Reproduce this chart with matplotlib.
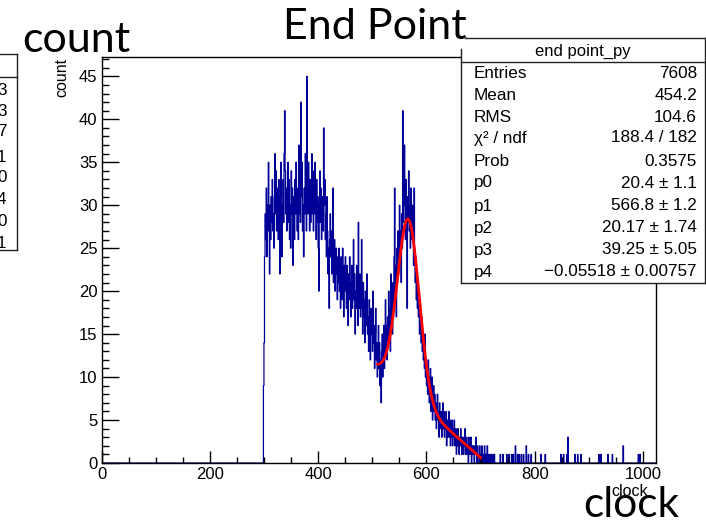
import numpy as np
import matplotlib
matplotlib.use("Agg")
import matplotlib.pyplot as plt
from matplotlib.ticker import MultipleLocator
from matplotlib.lines import Line2D
from matplotlib.patches import Rectangle

# histogram "end point_py": 1024 bins of width 1, counts
n_bins = 1024
first_bin = 298
counts_main = [
    0, 9, 14, 24, 29, 26, 32, 24, 30, 27,     # 298
    35, 28, 22, 30, 26, 31, 28, 33, 27, 29,   # 308
    25, 31, 36, 29, 34, 27, 32, 30, 26, 33,   # 318
    29, 22, 31, 35, 26, 24, 30, 33, 28, 36,   # 328
    41, 34, 29, 32, 27, 31, 35, 28, 33, 26,   # 338
    30, 25, 34, 29, 32, 23, 28, 31, 26, 33,   # 348
    29, 35, 30, 27, 32, 26, 37, 29, 33, 28,   # 358
    42, 31, 35, 27, 30, 24, 32, 29, 36, 31,   # 368
    27, 45, 33, 29, 35, 30, 27, 33, 28, 31,   # 378
    36, 29, 34, 27, 32, 29, 35, 30, 26, 33,   # 388
    28, 31, 25, 20, 30, 34, 28, 32, 26, 31,   # 398
    29, 27, 39, 30, 33, 26, 29, 24, 31, 27,   # 408
    22, 25, 18, 26, 29, 24, 27, 22, 25, 32,   # 418
    21, 24, 26, 20, 23, 25, 22, 19, 24, 21,   # 428
    25, 20, 23, 18, 24, 21, 19, 25, 22, 17,   # 438
    23, 20, 24, 21, 18, 23, 20, 16, 22, 19,   # 448
    24, 21, 17, 20, 23, 18, 21, 26, 19, 22,   # 458
    15, 20, 18, 23, 19, 16, 28, 21, 18, 22,   # 468
    17, 20, 26, 18, 15, 21, 17, 19, 14, 20,   # 478
    16, 18, 22, 15, 17, 13, 19, 16, 12, 18,   # 488
    15, 17, 13, 20, 14, 16, 11, 15, 18, 12,   # 498
    14, 10, 13, 16, 11, 14, 9, 12, 7, 13,     # 508
    15, 10, 12, 16, 11, 14, 19, 13, 16, 12,   # 518
    17, 14, 20, 15, 18, 13, 22, 16, 19, 15,   # 528
    21, 18, 24, 32, 19, 23, 17, 25, 21, 27,   # 538
    22, 26, 30, 23, 27, 21, 29, 25, 41, 28,   # 548
    32, 37, 30, 26, 33, 29, 18, 31, 28, 34,   # 558
    27, 30, 25, 32, 28, 26, 30, 27, 23, 32,   # 568
    25, 21, 24, 19, 22, 18, 21, 17, 20, 15,   # 578
    19, 16, 14, 17, 13, 15, 12, 14, 11, 15,   # 588
    10, 12, 9, 11, 8, 12, 10, 7, 9, 11,       # 598
    6, 8, 10, 5, 7, 9, 6, 8, 5, 7,            # 608
    4, 6, 8, 5, 6, 3, 7, 5, 4, 6,             # 618
    3, 5, 7, 4, 6, 3, 5, 4, 6, 2,             # 628
    5, 3, 4, 6, 3, 5, 2, 4, 3, 5,             # 638
    2, 4, 3, 5, 2, 3, 4, 1, 3, 2,             # 648
    4, 3, 1, 3, 2, 4, 2, 1, 3, 2,             # 658
    1, 3, 2, 4, 1, 2, 3, 1, 2, 0,             # 668
    3, 1, 2, 1, 3, 0, 2, 1, 2, 1,             # 678
    0, 2, 1, 3, 1, 0, 2, 1, 1, 0,             # 688
    2, 1, 0, 1, 2, 0, 1, 0, 1, 2,             # 698
    0, 1, 1, 0, 2, 0, 1, 0, 0, 1,             # 708
    0, 1, 0, 0, 1, 0, 0, 1, 0, 0,             # 718
]
tail_bins = [736, 741, 748, 752, 757, 760, 764, 768, 771, 775, 779, 784, 788, 793,
             811, 819, 848, 853, 859, 861, 874, 879, 885, 918, 922, 935, 943, 963, 991, 994]
tail_counts = [1, 1, 1, 1, 1, 1, 2, 1, 1, 1, 1, 2, 1, 1,
               1, 1, 1, 1, 1, 3, 1, 1, 1, 1, 1, 1, 1, 2, 1, 1]

# fit: gaus(p0,p1,p2) + pol1(p3,p4) over 510..700
fit_params = [20.4, 566.8, 20.17, 39.25, -0.05518]
fit_range = (510, 700)

stat_names = ["Entries", "Mean", "RMS", "\u03c7\u00b2 / ndf", "Prob", "p0", "p1", "p2", "p3", "p4"]
stat_values = ["7608", "454.2", "104.6", "188.4 / 182", "0.3575",
               "20.4 \u00b1 1.1", "566.8 \u00b1 1.2", "20.17 \u00b1 1.74",
               "39.25 \u00b1 5.05", "\u22120.05518 \u00b1 0.00757"]
# right column of another stats box, cut off at the left edge
left_box_digits = ["3", "3", "7", "1", "0", "4", "0", "1"]

W, H = 706, 525
def fx(x):
    return x / W
def fy(y):
    return 1 - y / H

root_font = "Liberation Sans"
slide_font = "Lato"
plt.rcParams["font.family"] = [root_font, "DejaVu Sans"]

counts = np.zeros(n_bins)
counts[first_bin:first_bin + len(counts_main)] = counts_main
counts[tail_bins] = tail_counts
edges = np.arange(n_bins + 1)

fig = plt.figure(figsize=(W / 100, H / 100), dpi=100)
ax = fig.add_axes([fx(101.5), fy(463), fx(656) - fx(101.5), fy(57) - fy(463)])
ax.stairs(counts, edges, color="#000099", linewidth=0.9)

xf = np.linspace(fit_range[0], fit_range[1], 400)
p0, p1, p2, p3, p4 = fit_params
yf = p0 * np.exp(-0.5 * ((xf - p1) / p2) ** 2) + p3 + p4 * xf
ax.plot(xf, yf, color="#ff0000", linewidth=2)

ax.set_xlim(0, n_bins)
ax.set_ylim(0, 45 * 1.05)
ax.xaxis.set_major_locator(MultipleLocator(200))
ax.xaxis.set_minor_locator(MultipleLocator(50))
ax.yaxis.set_major_locator(MultipleLocator(5))
ax.yaxis.set_minor_locator(MultipleLocator(1))
ax.tick_params(axis="x", which="major", direction="in", length=8.6, width=1, pad=3, labelsize=12)
ax.tick_params(axis="x", which="minor", direction="in", length=4.3, width=1)
ax.tick_params(axis="y", which="major", direction="in", length=12, width=1, pad=3, labelsize=12)
ax.tick_params(axis="y", which="minor", direction="in", length=5, width=1)
for s in ax.spines.values():
    s.set_linewidth(1)

# small ROOT axis titles
fig.text(fx(62), fy(77), "count", rotation=90, ha="center", va="center", fontsize=11.5)
fig.text(fx(648), fy(491), "clock", ha="right", va="center", fontsize=11.5)

def seg(x0, y0, x1, y1, color="#222222", lw=1):
    fig.add_artist(Line2D([fx(x0), fx(x1)], [fy(y0), fy(y1)], color=color, linewidth=lw,
                          transform=fig.transFigure))

# stats box
fig.add_artist(Rectangle((fx(461), fy(283)), fx(706) - fx(461), fy(38) - fy(283),
                         facecolor="white", edgecolor="none", transform=fig.transFigure))
seg(465, 38, 706, 38)
seg(461, 49, 461, 283)
seg(461, 283, 705, 283)
seg(705, 38, 705, 283)
seg(461, 62, 705, 62)
fig.text(fx(583), fy(51), "end point_py", ha="center", va="center", fontsize=12)
row_y = [73, 95, 117, 138, 161, 183, 206, 228, 250, 272]
for name, val, y in zip(stat_names, stat_values, row_y):
    fig.text(fx(474), fy(y), name, ha="left", va="center", fontsize=12.3)
    fig.text(fx(697), fy(y), val, ha="right", va="center", fontsize=12.3)

# partial stats box at the left edge
seg(0, 54, 17, 54)
seg(0, 77, 17, 77)
seg(17, 54, 17, 250)
seg(0, 250, 17, 250)
for d, y in zip(left_box_digits, [90, 111, 131, 157, 178, 200, 222, 243]):
    fig.text(fx(6.5), fy(y), d, ha="right", va="center", fontsize=12.3)

# slide text boxes pasted on top
fig.text(fx(283), fy(39), "End Point", ha="left", va="baseline", fontsize=31,
         family=[slide_font, "DejaVu Sans"])
fig.text(fx(22), fy(52), "count", ha="left", va="baseline", fontsize=31,
         family=[slide_font, "DejaVu Sans"])
fig.text(fx(583), fy(517), "clock", ha="left", va="baseline", fontsize=30.5,
         family=[slide_font, "DejaVu Sans"])

fig.savefig("out.png", dpi=100)
